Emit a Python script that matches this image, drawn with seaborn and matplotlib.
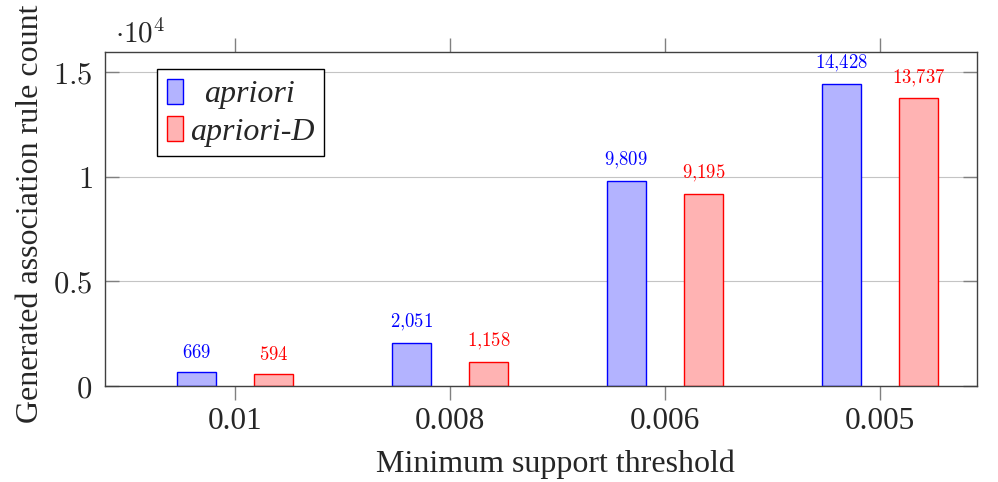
import matplotlib
matplotlib.use("Agg")
import matplotlib.pyplot as plt
from matplotlib.transforms import ScaledTranslation
import seaborn as sns
import pandas as pd

categories = ["0.01", "0.008", "0.006", "0.005"]
series_names = ["apriori", "apriori-D"]
apriori = [669, 2051, 9809, 14428]
apriori_d = [594, 1158, 9195, 13737]
ytick_vals = [0, 5000, 10000, 15000]
ytick_labels = ["0", "0.5", "1", "1.5"]

fill_colors = ["#B3B3FF", "#FFB3B3"]
edge_colors = ["#0000FF", "#FF0000"]

df = pd.DataFrame({
    "threshold": categories * 2,
    "series": [series_names[0]] * 4 + [series_names[1]] * 4,
    "count": apriori + apriori_d,
})

sns.set_theme(style="white")
plt.rcParams["font.family"] = ["Liberation Serif", "DejaVu Serif"]
plt.rcParams["mathtext.fontset"] = "cm"

fig = plt.figure(figsize=(9.98, 4.82), dpi=100)
ax = fig.add_axes([0.1052, 0.199, 0.979 - 0.1052, 0.892 - 0.199])

sns.barplot(data=df, x="threshold", y="count", hue="series", order=categories,
            hue_order=series_names, palette=fill_colors, width=0.72, gap=0.5,
            saturation=1, linewidth=1.0, ax=ax, legend=False, errorbar=None)

for cont, ec in zip(ax.containers, edge_colors):
    for p in cont.patches:
        p.set_edgecolor(ec)
        p.set_linewidth(1.0)
    ax.bar_label(cont, labels=[r"$%s$" % f"{int(v):,}".replace(",", "{,}") for v in cont.datavalues],
                 padding=7, color=ec, fontsize=13.5)

ax.set_xlim(-0.605, 3.451)
ax.set_ylim(0, 15955)
ax.set_yticks(ytick_vals)
ax.set_yticklabels([r"$%s$" % s for s in ytick_labels])
ax.yaxis.grid(True, color="#C4C4C4", linewidth=0.8)
ax.set_axisbelow(True)

for s in ax.spines.values():
    s.set_color("#404040")
    s.set_linewidth(1.0)

ax.tick_params(axis="x", which="both", direction="out", top=True, bottom=True,
               length=10, color="#808080", width=1.0, labelsize=22.5, pad=5)
ax.tick_params(axis="y", which="both", direction="in", left=True, right=True,
               length=10, color="#808080", width=1.0, labelsize=22, pad=9)

ax.set_xlabel("Minimum support threshold", fontsize=23, labelpad=10)
ax.set_ylabel("Generated association rule count", fontsize=23, labelpad=6)
ax.xaxis.label.set_x(0.516)
ax.yaxis.label.set_y(0.515)

ax.text(0.012, 1.01, r"$\cdot10^4$", transform=ax.transAxes, fontsize=21,
        ha="left", va="bottom")

leg = ax.legend(handles=list(ax.containers), labels=series_names,
                loc="upper left", bbox_to_anchor=(0.0596, 0.949),
                prop={"style": "italic", "size": 23, "family": "Liberation Serif"},
                frameon=True, fancybox=False, edgecolor="black", framealpha=1,
                handlelength=0.53, handleheight=0.85, handletextpad=0.2,
                borderpad=0.3, labelspacing=0.2, borderaxespad=0)
leg.get_frame().set_linewidth(1.0)
# centre the shorter entry in its column, as in the original
t0 = leg.get_texts()[0]
t0.set_transform(t0.get_transform() + ScaledTranslation(0.14, 0, fig.dpi_scale_trans))

fig.savefig("out.png", dpi=100)
